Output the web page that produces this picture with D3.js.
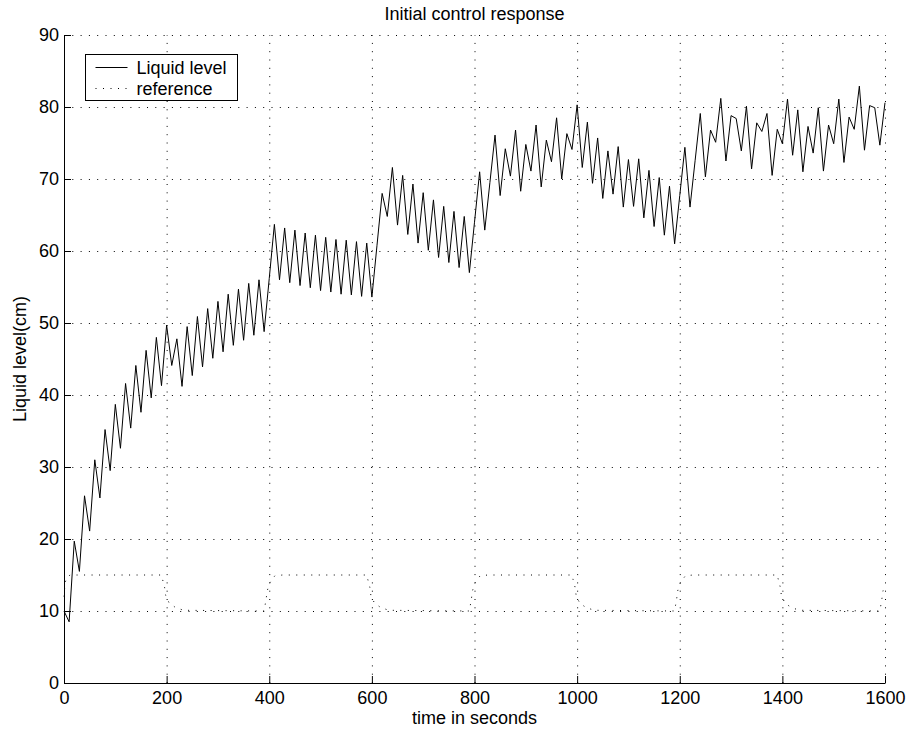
<!DOCTYPE html>
<html>
<head>
<meta charset="utf-8">
<script src="https://cdn.jsdelivr.net/npm/d3@7"></script>
<style>
  body { margin: 0; background: #fff; }
  svg { display: block; }
  text { font-family: "Liberation Sans", Arial, Helvetica, sans-serif; fill: #000; }
</style>
</head>
<body>
<svg id="chart" width="907" height="731"></svg>
<script>
// Liquid level, sampled every 10 s from t = 0 to t = 1600
const sampleStep = 10;
const levelValues = [
  10.0, 8.5, 19.7, 15.5, 26.0, 21.1, 31.0, 25.7, 35.2, 29.5,
  38.7, 32.6, 41.6, 35.4, 44.1, 37.6, 46.2, 39.6, 48.0, 41.3,
  49.7, 44.1, 47.8, 41.2, 49.5, 42.7, 50.9, 43.9, 52.0, 45.1,
  53.0, 46.0, 54.0, 46.9, 54.7, 47.6, 55.5, 48.3, 56.0, 48.8,
  56.2, 63.7, 56.0, 63.2, 55.6, 62.9, 55.2, 62.5, 54.9, 62.2,
  54.5, 61.9, 54.3, 61.6, 54.0, 61.5, 53.9, 61.3, 53.7, 61.1,
  53.6, 60.8, 68.0, 64.8, 71.6, 63.6, 70.5, 62.3, 69.3, 61.1,
  68.1, 60.1, 67.1, 59.1, 66.2, 58.4, 65.5, 57.7, 64.8, 57.0,
  64.0, 71.0, 62.9, 69.5, 76.1, 67.7, 74.2, 70.4, 76.8, 68.3,
  74.8, 71.1, 77.5, 68.9, 75.4, 72.4, 78.5, 70.0, 76.3, 74.1,
  80.3, 71.6, 77.9, 69.4, 75.7, 67.3, 73.9, 67.9, 74.5, 66.1,
  72.7, 66.2, 72.8, 64.6, 71.2, 63.4, 70.2, 62.2, 69.0, 61.0,
  67.7, 74.4, 66.1, 72.6, 79.1, 70.3, 76.8, 75.1, 81.2, 72.5,
  78.8, 78.4, 73.9, 80.1, 71.4, 77.8, 76.6, 79.1, 70.5, 76.9,
  74.9, 81.1, 73.3, 79.6, 71.0, 77.3, 73.6, 79.9, 71.1, 77.5,
  74.9, 81.1, 72.3, 78.6, 76.9, 82.9, 74.0, 80.2, 79.9, 74.7,
  80.6
];

// Reference set-point (square wave between 15 and 10 cm, smoothed edges)
const refTimes = [
  0, 2, 6, 12,
  190, 192, 196, 198, 205, 217, 233,
  390, 394, 396, 401, 411, 426,
  590, 592, 596, 598, 605, 617, 633,
  790, 794, 796, 801, 811, 826,
  990, 992, 996, 998, 1005, 1017, 1033,
  1190, 1194, 1196, 1201, 1211, 1226,
  1390, 1392, 1396, 1398, 1405, 1417, 1433,
  1590, 1594, 1596, 1600
];
const refValues = [
  12.0, 13.9, 14.7, 15.0,
  15.0, 14.4, 13.3, 12.2, 11.1, 10.5, 10.1,
  10.0, 11.7, 12.8, 13.9, 14.9, 15.0,
  15.0, 14.4, 13.3, 12.2, 11.1, 10.5, 10.1,
  10.0, 11.7, 12.8, 13.9, 14.9, 15.0,
  15.0, 14.4, 13.3, 12.2, 11.1, 10.5, 10.1,
  10.0, 11.7, 12.8, 13.9, 14.9, 15.0,
  15.0, 14.4, 13.3, 12.2, 11.1, 10.5, 10.1,
  10.0, 11.7, 12.8, 13.2
];

const xTicks = [0, 200, 400, 600, 800, 1000, 1200, 1400, 1600];
const yTicks = [0, 10, 20, 30, 40, 50, 60, 70, 80, 90];

const titleText = "Initial control response";
const xLabel = "time in seconds";
const yLabel = "Liquid level(cm)";
const seriesNames = ["Liquid level", "reference"];

const svg = d3.select("#chart");
const plot = { left: 64, right: 885, top: 35, bottom: 683 };

const x = d3.scaleLinear().domain([0, 1600]).range([plot.left, plot.right]);
const y = d3.scaleLinear().domain([0, 90]).range([plot.bottom, plot.top]);

const gridDash = "1,7.3";
const tickFont = 18;
const fontStack = '"Liberation Sans", Arial, sans-serif';

// dotted grid
const grid = svg.append("g").attr("class", "grid");
grid.append("g")
  .attr("transform", `translate(0,${plot.bottom})`)
  .call(d3.axisBottom(x).tickValues(xTicks).tickSize(-(plot.bottom - plot.top)).tickFormat(""))
  .call(g => g.select(".domain").remove())
  .call(g => g.selectAll("line").attr("stroke", "#000").attr("stroke-dasharray", gridDash));
grid.append("g")
  .attr("transform", `translate(${plot.left},0)`)
  .call(d3.axisLeft(y).tickValues(yTicks).tickSize(-(plot.right - plot.left)).tickFormat(""))
  .call(g => g.select(".domain").remove())
  .call(g => g.selectAll("line").attr("stroke", "#000").attr("stroke-dasharray", gridDash));

// reference (dotted)
const line = d3.line().x(d => x(d[0])).y(d => y(d[1]));
const refData = refTimes.map((t, i) => [t, refValues[i]]);
svg.append("path")
  .datum(refData)
  .attr("fill", "none")
  .attr("stroke", "#000")
  .attr("stroke-width", 1)
  .attr("stroke-dasharray", "1,6.5")
  .attr("d", line);

// liquid level (solid)
const levelData = levelValues.map((v, i) => [i * sampleStep, v]);
svg.append("path")
  .datum(levelData)
  .attr("fill", "none")
  .attr("stroke", "#000")
  .attr("stroke-width", 1)
  .attr("stroke-linejoin", "miter")
  .attr("d", line);

// axes with inward ticks
const xAxis = svg.append("g")
  .attr("transform", `translate(0,${plot.bottom})`)
  .call(d3.axisBottom(x).tickValues(xTicks).tickFormat(d3.format("d"))
    .tickSizeInner(-7).tickSizeOuter(0).tickPadding(8));
xAxis.attr("font-size", tickFont).attr("font-family", fontStack);
xAxis.selectAll("line, path").attr("stroke", "#000");

const yAxis = svg.append("g")
  .attr("transform", `translate(${plot.left},0)`)
  .call(d3.axisLeft(y).tickValues(yTicks).tickFormat(d3.format("d"))
    .tickSizeInner(-7).tickSizeOuter(0).tickPadding(5));
yAxis.attr("font-size", tickFont).attr("font-family", fontStack);
yAxis.selectAll("line, path").attr("stroke", "#000");

// title and axis labels
svg.append("text")
  .attr("x", (plot.left + plot.right) / 2)
  .attr("y", 20)
  .attr("text-anchor", "middle")
  .attr("font-size", 18)
  .text(titleText);

svg.append("text")
  .attr("x", (plot.left + plot.right) / 2)
  .attr("y", 724)
  .attr("text-anchor", "middle")
  .attr("font-size", 18)
  .text(xLabel);

svg.append("text")
  .attr("transform", `translate(26,${(plot.top + plot.bottom) / 2}) rotate(-90)`)
  .attr("text-anchor", "middle")
  .attr("font-size", 18)
  .text(yLabel);

// legend
const legend = svg.append("g").attr("transform", "translate(85.5,54.5)");
legend.append("rect")
  .attr("width", 152).attr("height", 46)
  .attr("fill", "#fff").attr("stroke", "#000").attr("stroke-width", 1);
const legendStyles = [null, "1,6.5"];
seriesNames.forEach((name, i) => {
  const ly = 13 + i * 21;
  legend.append("line")
    .attr("x1", 10).attr("x2", 42).attr("y1", ly).attr("y2", ly)
    .attr("stroke", "#000").attr("stroke-width", 1)
    .attr("stroke-dasharray", legendStyles[i]);
  legend.append("text")
    .attr("x", 51).attr("y", ly + 6)
    .attr("font-size", 18)
    .text(name);
});
</script>
</body>
</html>
